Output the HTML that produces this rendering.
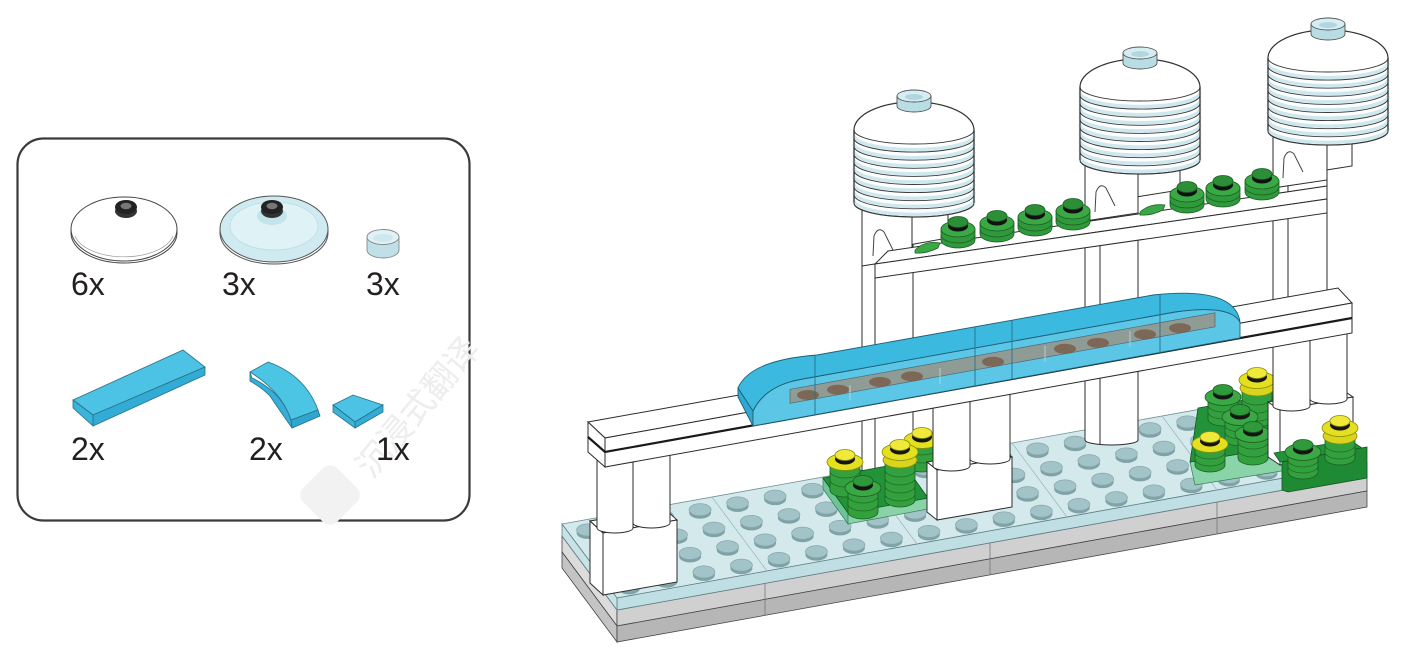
<!DOCTYPE html>
<html><head><meta charset="utf-8"><style>
html,body{margin:0;padding:0;background:#fff;}
svg{display:block;}
</style></head><body>
<svg width="1401" height="651" viewBox="0 0 1401 651" xmlns="http://www.w3.org/2000/svg" xmlns:xlink="http://www.w3.org/1999/xlink">
<defs>
 <g id="st"><ellipse cx="0" cy="3" rx="11" ry="6" fill="#7fa2a7"/><ellipse cx="0" cy="0" rx="11" ry="6" fill="#a2c3c7" stroke="#86a8ad" stroke-width="0.7"/></g>
 <g id="row">
  <use xlink:href="#st" x="0" y="0"/><use xlink:href="#st" x="37.5" y="-6.75"/><use xlink:href="#st" x="75" y="-13.5"/><use xlink:href="#st" x="112.5" y="-20.25"/><use xlink:href="#st" x="150" y="-27"/><use xlink:href="#st" x="187.5" y="-33.75"/><use xlink:href="#st" x="225" y="-40.5"/><use xlink:href="#st" x="262.5" y="-47.25"/><use xlink:href="#st" x="300" y="-54"/><use xlink:href="#st" x="337.5" y="-60.75"/><use xlink:href="#st" x="375" y="-67.5"/><use xlink:href="#st" x="412.5" y="-74.25"/><use xlink:href="#st" x="450" y="-81"/><use xlink:href="#st" x="487.5" y="-87.75"/><use xlink:href="#st" x="525" y="-94.5"/><use xlink:href="#st" x="562.5" y="-101.25"/><use xlink:href="#st" x="600" y="-108"/><use xlink:href="#st" x="637.5" y="-114.75"/><use xlink:href="#st" x="675" y="-121.5"/><use xlink:href="#st" x="712.5" y="-128.25"/>
 </g>
 <g id="tw">
  <path d="M0,0 L0,73 A60,14 0 0 0 120,73 L120,0 A60,28 0 0 0 0,0 Z" fill="#fff" stroke="#333" stroke-width="1.2"/>
  <path d="M0,5.6A60,14 0 0 0 120,5.6M0,13.7A60,14 0 0 0 120,13.7M0,21.8A60,14 0 0 0 120,21.8M0,29.9A60,14 0 0 0 120,29.9M0,38A60,14 0 0 0 120,38M0,46.1A60,14 0 0 0 120,46.1M0,54.2A60,14 0 0 0 120,54.2M0,62.3A60,14 0 0 0 120,62.3M0,70.4A60,14 0 0 0 120,70.4" fill="none" stroke="#cfe8ef" stroke-width="3.5"/>
  <path d="M0,0A60,14 0 0 0 120,0M0,8.1A60,14 0 0 0 120,8.1M0,16.2A60,14 0 0 0 120,16.2M0,24.3A60,14 0 0 0 120,24.3M0,32.4A60,14 0 0 0 120,32.4M0,40.5A60,14 0 0 0 120,40.5M0,48.6A60,14 0 0 0 120,48.6M0,56.7A60,14 0 0 0 120,56.7M0,64.8A60,14 0 0 0 120,64.8M0,72.9A60,14 0 0 0 120,72.9" fill="none" stroke="#3a3a3a" stroke-width="0.9"/>
  <path d="M0,0 L0,73 M120,0 L120,73" stroke="#333" stroke-width="1.2"/>
  <path d="M43,-34 L43,-24 A17,6 0 0 0 77,-24 L77,-34 Z" fill="#b9dde5" stroke="#555" stroke-width="0.9"/>
  <ellipse cx="60" cy="-34" rx="17" ry="6" fill="#d6eef3" stroke="#555" stroke-width="0.9"/>
  <ellipse cx="60" cy="-33" rx="9" ry="3" fill="#b2d6de"/>
 </g>
</defs>

<!-- ================= PARTS BOX ================= -->
<rect x="17.5" y="138.5" width="452" height="382" rx="26" ry="26" fill="#fff" stroke="#3a3a3a" stroke-width="2.2"/>
<!-- watermark -->
<g transform="translate(330,495) rotate(-45)"><rect x="-24" y="-24" width="48" height="48" rx="10" fill="#f2f2f2"/></g>
<text x="0" y="0" transform="translate(372,480) rotate(-50)" font-family="'Liberation Sans','Noto Sans CJK SC',sans-serif" font-size="34" fill="#ededed">沉浸式翻译</text>

<!-- white dish -->
<ellipse cx="124" cy="229" rx="53" ry="32" fill="#fff" stroke="#444" stroke-width="1"/>
<path d="M71,229 L71,233 A53,30 0 0 0 177,233 L177,229" fill="none" stroke="#444" stroke-width="1"/>
<path d="M75,236 A50,26 0 0 0 173,236" fill="none" stroke="#999" stroke-width="0.7"/>
<ellipse cx="126" cy="211" rx="11" ry="7" fill="#333"/>
<ellipse cx="126" cy="207" rx="11" ry="7" fill="#222"/>
<ellipse cx="126" cy="206" rx="5.5" ry="3.2" fill="#777"/>
<!-- blue dish -->
<ellipse cx="274" cy="229" rx="54" ry="33" fill="#cfeaf0" stroke="#555" stroke-width="1"/>
<path d="M220,229 L220,233 A54,31 0 0 0 328,233 L328,229" fill="none" stroke="#555" stroke-width="1"/>
<ellipse cx="274" cy="226" rx="44" ry="24" fill="#dff2f6" stroke="#b9dde4" stroke-width="0.8"/>
<ellipse cx="272" cy="216" rx="15" ry="9" fill="#c4e4eb"/>
<ellipse cx="272" cy="211" rx="11" ry="7" fill="#333"/>
<ellipse cx="272" cy="207" rx="11" ry="7" fill="#222"/>
<ellipse cx="272" cy="206" rx="5.5" ry="3.2" fill="#777"/>
<!-- small round plate -->
<path d="M367,237 L367,250 A16,8 0 0 0 399,250 L399,237 Z" fill="#bfe0e7" stroke="#888" stroke-width="0.9"/>
<ellipse cx="383" cy="237" rx="16" ry="7.5" fill="#e0f2f5" stroke="#888" stroke-width="0.9"/>
<ellipse cx="383" cy="238" rx="10" ry="4" fill="#cde8ee"/>
<!-- long tile -->
<polygon points="73,400 183,350 205,367 93,415" fill="#4cc3e4" stroke="#2a6f86" stroke-width="0.8"/>
<polygon points="93,415 205,367 205,375 93,426" fill="#33acd5" stroke="#2a6f86" stroke-width="0.8"/>
<polygon points="73,400 93,415 93,426 73,408" fill="#3ab4da" stroke="#2a6f86" stroke-width="0.8"/>
<!-- curved slope -->
<path d="M250,372 L250,381 Q262,388 270,396 L276,405 L292,428 L291,420 Q282,392 252,378 Z" fill="#35afd8" stroke="#2a6f86" stroke-width="0.8"/>
<path d="M250,372 L268,362 Q305,375 318,410 L291,420 Q282,392 250,372 Z" fill="#4cc4e4" stroke="#2a6f86" stroke-width="0.8"/>
<path d="M291,420 L318,410 L320,416 L292,428 Z" fill="#2fa6cf" stroke="#2a6f86" stroke-width="0.8"/>
<!-- small tile -->
<polygon points="333,405 353,395 383,405 355,422" fill="#4cc3e4" stroke="#2a6f86" stroke-width="0.8"/>
<polygon points="355,422 383,405 383,412 355,428" fill="#33acd5" stroke="#2a6f86" stroke-width="0.8"/>
<polygon points="333,405 355,422 355,428 333,412" fill="#3ab4da" stroke="#2a6f86" stroke-width="0.8"/>
<!-- labels -->
<g font-family="'Liberation Sans',sans-serif" font-size="32" fill="#231f20">
 <text x="71" y="295">6x</text>
 <text x="222" y="295">3x</text>
 <text x="366" y="295">3x</text>
 <text x="71" y="460">2x</text>
 <text x="249" y="460">2x</text>
 <text x="376" y="460">1x</text>
</g>

<!-- ================= MODEL ================= -->
<!-- gray base -->
<polygon points="562,536 617,610 617,626 562,552" fill="#dcdcdc" stroke="#444" stroke-width="0.8"/>
<polygon points="562,552 617,626 617,642 562,568" fill="#c4c4c4" stroke="#444" stroke-width="0.8"/>
<polygon points="617,610 1367,475 1367,491 617,626" fill="#d0d0d0" stroke="#444" stroke-width="0.8"/>
<polygon points="617,626 1367,491 1367,507 617,642" fill="#b6b6b6" stroke="#444" stroke-width="0.8"/>
<path d="M765,583 L765,615 M990,543 L990,575 M1217,502 L1217,534" stroke="#777" stroke-width="0.8"/>
<!-- trans top plate -->
<polygon points="617,598 1367,463 1312,389 562,524" fill="#d4e9ec" stroke="#6f8f94" stroke-width="0.8"/>
<polygon points="617,598 1367,463 1367,475 617,610" fill="#c0dfe4" stroke="#5f7f84" stroke-width="0.8"/>
<polygon points="562,524 617,598 617,610 562,536" fill="#c8e3e7" stroke="#5f7f84" stroke-width="0.8"/>
<path d="M767,571 L712,497 M917,544 L862,470 M1067,517 L1012,443 M1217,490 L1162,416" stroke="#9cb9bd" stroke-width="0.8"/>
<!-- studs -->
<use xlink:href="#row" transform="translate(587.6,529.9)"/>
<use xlink:href="#row" transform="translate(601.4,548.4)"/>
<use xlink:href="#row" transform="translate(615.1,566.9)"/>
<use xlink:href="#row" transform="translate(628.9,585.4)"/>

<!-- tower columns -->
<g fill="#fff" stroke="#2b2b2b" stroke-width="1">
 <path d="M862,200 L862,470 A25.5,5 0 0 0 913,470 L913,200 Z"/>
 <path d="M875,200 L875,474" fill="none"/>
 <path d="M1085,165 L1085,440 A26.5,5 0 0 0 1138,440 L1138,165 Z"/>
 <path d="M1100,165 L1100,444" fill="none"/>
 <path d="M1273,135 L1273,300 L1327,300 L1327,135 Z"/>
 <path d="M1288,135 L1288,300" fill="none"/>
 <!-- brackets / blocks -->
 <polygon points="903,218 948,212 948,238 903,246"/>
 <polygon points="862,205 912,205 912,258 862,266"/>
 <polygon points="1130,172 1180,166 1180,190 1130,198"/>
 <polygon points="1085,165 1138,165 1138,213 1085,221"/>
 <polygon points="1320,145 1352,141 1352,166 1320,171"/>
 <polygon points="1273,135 1327,135 1327,180 1273,188"/>
</g>
<g fill="none" stroke="#444" stroke-width="1">
 <path d="M873,256 L874,236 Q878,226 884,232 L893,250"/>
 <path d="M1095,212 L1096,192 Q1100,182 1106,188 L1115,206"/>
 <path d="M1283,178 L1284,158 Q1288,148 1294,154 L1303,172"/>
</g>

<!-- towers -->
<use xlink:href="#tw" transform="translate(854,130)"/>
<use xlink:href="#tw" transform="translate(1080,87)"/>
<use xlink:href="#tw" transform="translate(1268,58)"/>

<!-- upper beam -->
<polygon points="875,264 1327,199 1327,186 888,251" fill="#fff" stroke="#2b2b2b" stroke-width="1"/>
<polygon points="875,264 1327,199 1327,213 875,278" fill="#fff" stroke="#2b2b2b" stroke-width="1"/>
<!-- leaves -->
<path d="M915,250 Q925,240 940,243 L938,248 Q926,254 915,253 Z" fill="#3aa845" stroke="#1b5e22" stroke-width="0.7"/>
<path d="M1140,212 Q1150,203 1165,205 L1163,210 Q1151,216 1140,215 Z" fill="#3aa845" stroke="#1b5e22" stroke-width="0.7"/>
<!-- green studs on upper beam -->
<g stroke="#1b5e22" stroke-width="0.8">
 <g transform="translate(958,240)"><path d="M-17,-11 L-17,0 A17,8 0 0 0 17,0 L17,-11 Z" fill="#2f9a3c"/><path d="M-17,-5 A17,8 0 0 0 17,-5" fill="none"/><ellipse cx="0" cy="-11" rx="17" ry="8" fill="#3aa845"/><ellipse cx="0" cy="-14" rx="10" ry="5.5" fill="#111" stroke="none"/><ellipse cx="0" cy="-18" rx="10" ry="5.5" fill="#2c8f37"/></g>
 <g transform="translate(997,234)"><path d="M-17,-11 L-17,0 A17,8 0 0 0 17,0 L17,-11 Z" fill="#2f9a3c"/><path d="M-17,-5 A17,8 0 0 0 17,-5" fill="none"/><ellipse cx="0" cy="-11" rx="17" ry="8" fill="#3aa845"/><ellipse cx="0" cy="-14" rx="10" ry="5.5" fill="#111" stroke="none"/><ellipse cx="0" cy="-18" rx="10" ry="5.5" fill="#2c8f37"/></g>
 <g transform="translate(1035,228)"><path d="M-17,-11 L-17,0 A17,8 0 0 0 17,0 L17,-11 Z" fill="#2f9a3c"/><path d="M-17,-5 A17,8 0 0 0 17,-5" fill="none"/><ellipse cx="0" cy="-11" rx="17" ry="8" fill="#3aa845"/><ellipse cx="0" cy="-14" rx="10" ry="5.5" fill="#111" stroke="none"/><ellipse cx="0" cy="-18" rx="10" ry="5.5" fill="#2c8f37"/></g>
 <g transform="translate(1073,222)"><path d="M-17,-11 L-17,0 A17,8 0 0 0 17,0 L17,-11 Z" fill="#2f9a3c"/><path d="M-17,-5 A17,8 0 0 0 17,-5" fill="none"/><ellipse cx="0" cy="-11" rx="17" ry="8" fill="#3aa845"/><ellipse cx="0" cy="-14" rx="10" ry="5.5" fill="#111" stroke="none"/><ellipse cx="0" cy="-18" rx="10" ry="5.5" fill="#2c8f37"/></g>
 <g transform="translate(1187,205)"><path d="M-17,-11 L-17,0 A17,8 0 0 0 17,0 L17,-11 Z" fill="#2f9a3c"/><path d="M-17,-5 A17,8 0 0 0 17,-5" fill="none"/><ellipse cx="0" cy="-11" rx="17" ry="8" fill="#3aa845"/><ellipse cx="0" cy="-14" rx="10" ry="5.5" fill="#111" stroke="none"/><ellipse cx="0" cy="-18" rx="10" ry="5.5" fill="#2c8f37"/></g>
 <g transform="translate(1223,199)"><path d="M-17,-11 L-17,0 A17,8 0 0 0 17,0 L17,-11 Z" fill="#2f9a3c"/><path d="M-17,-5 A17,8 0 0 0 17,-5" fill="none"/><ellipse cx="0" cy="-11" rx="17" ry="8" fill="#3aa845"/><ellipse cx="0" cy="-14" rx="10" ry="5.5" fill="#111" stroke="none"/><ellipse cx="0" cy="-18" rx="10" ry="5.5" fill="#2c8f37"/></g>
 <g transform="translate(1262,192)"><path d="M-17,-11 L-17,0 A17,8 0 0 0 17,0 L17,-11 Z" fill="#2f9a3c"/><path d="M-17,-5 A17,8 0 0 0 17,-5" fill="none"/><ellipse cx="0" cy="-11" rx="17" ry="8" fill="#3aa845"/><ellipse cx="0" cy="-14" rx="10" ry="5.5" fill="#111" stroke="none"/><ellipse cx="0" cy="-18" rx="10" ry="5.5" fill="#2c8f37"/></g>
</g>

<!-- left plant cluster -->
<polygon points="823,478 848,513 848,524 823,489" fill="#6cc596" stroke="#3d7a55" stroke-width="0.7"/>
<polygon points="848,513 928,498 928,509 848,524" fill="#88d3a8" stroke="#3d7a55" stroke-width="0.7"/>
<polygon points="823,478 903,463 928,498 848,513" fill="#239339" stroke="#14561f" stroke-width="0.8"/>
<g stroke-width="0.8">
 <!-- P1 yellow -->
 <g transform="translate(922,440)"><path d="M-15,0 L-15,25 A15,7 0 0 0 15,25 L15,0 Z" fill="#33a03e" stroke="#1b5e22"/><path d="M-15,8 A15,7 0 0 0 15,8 M-15,16 A15,7 0 0 0 15,16" fill="none" stroke="#1e6b27"/><ellipse cx="0" cy="0" rx="18" ry="8.5" fill="#e4df1f" stroke="#8a8a10"/><ellipse cx="0" cy="-3" rx="10" ry="5.5" fill="#151515"/><ellipse cx="0" cy="-7" rx="10" ry="5.5" fill="#efe93a" stroke="#8a8a10"/></g>
 <!-- P2 tall yellow -->
 <g transform="translate(900,452)"><path d="M-15,0 L-15,48 A15,7 0 0 0 15,48 L15,0 Z" fill="#33a03e" stroke="#1b5e22"/><path d="M-15,18 A15,7 0 0 0 15,18 M-15,26 A15,7 0 0 0 15,26 M-15,34 A15,7 0 0 0 15,34 M-15,42 A15,7 0 0 0 15,42" fill="none" stroke="#1e6b27"/><ellipse cx="0" cy="8" rx="17" ry="8" fill="#d8d51c" stroke="#8a8a10"/><ellipse cx="0" cy="0" rx="18" ry="8.5" fill="#e4df1f" stroke="#8a8a10"/><ellipse cx="0" cy="-3" rx="10" ry="5.5" fill="#151515"/><ellipse cx="0" cy="-7" rx="10" ry="5.5" fill="#efe93a" stroke="#8a8a10"/></g>
 <!-- P3 yellow -->
 <g transform="translate(845,462)"><path d="M-15,0 L-15,28 A15,7 0 0 0 15,28 L15,0 Z" fill="#33a03e" stroke="#1b5e22"/><path d="M-15,9 A15,7 0 0 0 15,9 M-15,18 A15,7 0 0 0 15,18" fill="none" stroke="#1e6b27"/><ellipse cx="0" cy="0" rx="18" ry="8.5" fill="#e4df1f" stroke="#8a8a10"/><ellipse cx="0" cy="-3" rx="10" ry="5.5" fill="#151515"/><ellipse cx="0" cy="-7" rx="10" ry="5.5" fill="#efe93a" stroke="#8a8a10"/></g>
 <!-- P4 green -->
 <g transform="translate(863,488)"><path d="M-15,0 L-15,24 A15,7 0 0 0 15,24 L15,0 Z" fill="#33a03e" stroke="#1b5e22"/><path d="M-15,8 A15,7 0 0 0 15,8 M-15,16 A15,7 0 0 0 15,16" fill="none" stroke="#1e6b27"/><ellipse cx="0" cy="0" rx="18" ry="8.5" fill="#3aa845" stroke="#1b5e22"/><ellipse cx="0" cy="-3" rx="10" ry="5.5" fill="#151515"/><ellipse cx="0" cy="-7" rx="10" ry="5.5" fill="#2e9a3a" stroke="#1b5e22"/></g>
</g>

<!-- right plant cluster -->
<polygon points="1190,462 1282,447 1288,470 1195,485" fill="#8ad4aa" stroke="#3d7a55" stroke-width="0.7"/>
<polygon points="1198,408 1262,397 1282,447 1190,462" fill="#239339" stroke="#14561f" stroke-width="0.8"/>
<g stroke-width="0.8">
 <!-- Q1 tall yellow -->
 <g transform="translate(1257,380)"><path d="M-15,0 L-15,40 A15,7 0 0 0 15,40 L15,0 Z" fill="#33a03e" stroke="#1b5e22"/><path d="M-15,18 A15,7 0 0 0 15,18 M-15,26 A15,7 0 0 0 15,26 M-15,34 A15,7 0 0 0 15,34" fill="none" stroke="#1e6b27"/><ellipse cx="0" cy="8" rx="17" ry="8" fill="#d8d51c" stroke="#8a8a10"/><ellipse cx="0" cy="0" rx="18" ry="8.5" fill="#e4df1f" stroke="#8a8a10"/><ellipse cx="0" cy="-3" rx="10" ry="5.5" fill="#151515"/><ellipse cx="0" cy="-7" rx="10" ry="5.5" fill="#efe93a" stroke="#8a8a10"/></g>
 <!-- Q2 green -->
 <g transform="translate(1223,397)"><path d="M-15,0 L-15,22 A15,7 0 0 0 15,22 L15,0 Z" fill="#33a03e" stroke="#1b5e22"/><path d="M-15,8 A15,7 0 0 0 15,8 M-15,15 A15,7 0 0 0 15,15" fill="none" stroke="#1e6b27"/><ellipse cx="0" cy="0" rx="18" ry="8.5" fill="#3aa845" stroke="#1b5e22"/><ellipse cx="0" cy="-3" rx="10" ry="5.5" fill="#151515"/><ellipse cx="0" cy="-7" rx="10" ry="5.5" fill="#2e9a3a" stroke="#1b5e22"/></g>
 <!-- Q3 green -->
 <g transform="translate(1240,417)"><path d="M-15,0 L-15,22 A15,7 0 0 0 15,22 L15,0 Z" fill="#33a03e" stroke="#1b5e22"/><path d="M-15,8 A15,7 0 0 0 15,8 M-15,15 A15,7 0 0 0 15,15" fill="none" stroke="#1e6b27"/><ellipse cx="0" cy="0" rx="18" ry="8.5" fill="#3aa845" stroke="#1b5e22"/><ellipse cx="0" cy="-3" rx="10" ry="5.5" fill="#151515"/><ellipse cx="0" cy="-7" rx="10" ry="5.5" fill="#2e9a3a" stroke="#1b5e22"/></g>
 <!-- Q4 green -->
 <g transform="translate(1253,434)"><path d="M-15,0 L-15,24 A15,7 0 0 0 15,24 L15,0 Z" fill="#33a03e" stroke="#1b5e22"/><path d="M-15,8 A15,7 0 0 0 15,8 M-15,16 A15,7 0 0 0 15,16" fill="none" stroke="#1e6b27"/><ellipse cx="0" cy="0" rx="18" ry="8.5" fill="#3aa845" stroke="#1b5e22"/><ellipse cx="0" cy="-3" rx="10" ry="5.5" fill="#151515"/><ellipse cx="0" cy="-7" rx="10" ry="5.5" fill="#2e9a3a" stroke="#1b5e22"/></g>
 <!-- Q5 yellow -->
 <g transform="translate(1210,444)"><path d="M-15,0 L-15,21 A15,7 0 0 0 15,21 L15,0 Z" fill="#33a03e" stroke="#1b5e22"/><path d="M-15,8 A15,7 0 0 0 15,8 M-15,15 A15,7 0 0 0 15,15" fill="none" stroke="#1e6b27"/><ellipse cx="0" cy="0" rx="18" ry="8.5" fill="#e4df1f" stroke="#8a8a10"/><ellipse cx="0" cy="-3" rx="10" ry="5.5" fill="#151515"/><ellipse cx="0" cy="-7" rx="10" ry="5.5" fill="#efe93a" stroke="#8a8a10"/></g>
</g>

<!-- support blocks and cylinders -->
<g fill="#fff" stroke="#2b2b2b" stroke-width="1">
 <!-- left -->
 <polygon points="590,521 603,533 677,520 664,508"/>
 <polygon points="590,521 603,533 603,595 590,583"/>
 <polygon points="603,533 677,520 677,582 603,595"/>
 <path d="M597,440 L597,528 A18,5 0 0 0 633,528 L633,440 Z"/>
 <path d="M633,440 L633,523 A18.5,5 0 0 0 670,523 L670,440 Z"/>
 <!-- middle -->
 <polygon points="927,462 937,470 1012,457 1002,449"/>
 <polygon points="927,462 937,470 937,520 927,512"/>
 <polygon points="937,470 1012,457 1012,507 937,520"/>
 <path d="M933,395 L933,466 A18.5,5 0 0 0 970,466 L970,395 Z"/>
 <path d="M970,390 L970,459 A20,5 0 0 0 1010,459 L1010,390 Z"/>
 <!-- right -->
 <polygon points="1268,402 1280,410 1353,397 1341,389"/>
 <polygon points="1268,402 1280,410 1280,465 1268,457"/>
 <polygon points="1280,410 1353,397 1353,452 1280,465"/>
 <path d="M1273,330 L1273,406 A18.5,5 0 0 0 1310,406 L1310,330 Z"/>
 <path d="M1310,325 L1310,399 A18.5,5 0 0 0 1347,399 L1347,325 Z"/>
</g>

<!-- right green brick with plants -->
<polygon points="1280,462 1362,448 1350,440 1274,453" fill="#239339" stroke="#14561f" stroke-width="0.8"/>
<polygon points="1282,462 1367,447 1367,478 1288,492 1282,490" fill="#1e8a34" stroke="#14561f" stroke-width="0.8"/>
<g stroke-width="0.8">
 <!-- Q6 tall yellow -->
 <g transform="translate(1340,428)"><path d="M-15,0 L-15,30 A15,7 0 0 0 15,30 L15,0 Z" fill="#33a03e" stroke="#1b5e22"/><path d="M-15,17 A15,7 0 0 0 15,17 M-15,24 A15,7 0 0 0 15,24" fill="none" stroke="#1e6b27"/><ellipse cx="0" cy="8" rx="17" ry="8" fill="#d8d51c" stroke="#8a8a10"/><ellipse cx="0" cy="0" rx="18" ry="8.5" fill="#e4df1f" stroke="#8a8a10"/><ellipse cx="0" cy="-3" rx="10" ry="5.5" fill="#151515"/><ellipse cx="0" cy="-7" rx="10" ry="5.5" fill="#efe93a" stroke="#8a8a10"/></g>
 <!-- Q7 green -->
 <g transform="translate(1303,452)"><path d="M-15,0 L-15,20 A15,7 0 0 0 15,20 L15,0 Z" fill="#33a03e" stroke="#1b5e22"/><path d="M-15,8 A15,7 0 0 0 15,8 M-15,14 A15,7 0 0 0 15,14" fill="none" stroke="#1e6b27"/><ellipse cx="0" cy="0" rx="18" ry="8.5" fill="#3aa845" stroke="#1b5e22"/><ellipse cx="0" cy="-3" rx="10" ry="5.5" fill="#151515"/><ellipse cx="0" cy="-7" rx="10" ry="5.5" fill="#2e9a3a" stroke="#1b5e22"/></g>
</g>

<!-- lower beam -->
<g fill="#fff" stroke="#2b2b2b" stroke-width="1">
 <polygon points="588,422 1338,288 1352,303 605,438"/>
 <polygon points="605,438 1352,303 1352,333 605,467"/>
 <polygon points="588,422 605,438 605,467 588,452"/>
</g>
<path d="M588,437 L605,452 L1352,318" fill="none" stroke="#1a1a1a" stroke-width="2.2"/>

<!-- train -->
<g stroke="#1f5f74" stroke-width="0.9">
 <polygon points="738,388 753,411 753,426 738,397" fill="#2fa8d2"/>
 <path d="M753,426 L753,411 Q765,386 800,379.5 L1175,312 Q1230,304 1240,322 L1240,338 Z" fill="#5cc6e7"/>
 <path d="M738,388 Q750,360 817,355 L1153,295 Q1235,286 1240,322 Q1230,304 1175,312 L800,379.5 Q765,386 753,411 Z" fill="#3bb9df"/>
 <polygon points="790,389.3 1215,312.8 1215,326.8 790,403.3" fill="#8f9b95" stroke="#4d6a72" stroke-width="0.7"/>
</g>
<g fill="#7a5e4c" opacity="0.85">
 <ellipse cx="808" cy="395" rx="11" ry="5"/><ellipse cx="838" cy="389.7" rx="11" ry="5"/><ellipse cx="880" cy="382" rx="11" ry="5"/><ellipse cx="912" cy="376.4" rx="11" ry="5"/><ellipse cx="993" cy="361.8" rx="11" ry="5"/><ellipse cx="1065" cy="348.8" rx="11" ry="5"/><ellipse cx="1098" cy="342.9" rx="11" ry="5"/><ellipse cx="1145" cy="334.4" rx="11" ry="5"/><ellipse cx="1180" cy="328.1" rx="11" ry="5"/>
</g>
<g stroke="#2a6f88" stroke-width="0.9" fill="none">
 <path d="M815,355 L815,415"/>
 <path d="M975,327 L975,386"/>
 <path d="M1012,320 L1012,379"/>
 <path d="M1160,294 L1160,353"/>
 <path d="M850,385 L850,400 M940,368 L940,384 M1045,346 L1045,362 M1130,331 L1130,347" stroke="#b9d4da"/>
</g>
</svg>
</body></html>
